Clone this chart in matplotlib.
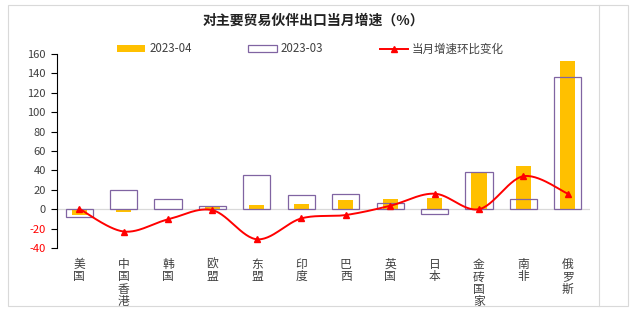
import numpy as np
import matplotlib
matplotlib.use("Agg")
import matplotlib.pyplot as plt
from matplotlib.patches import Rectangle
from matplotlib.lines import Line2D

plt.rcParams['font.family'] = ['Noto Sans CJK SC', 'DejaVu Sans']

# data
partners = ["美国", "中国香港", "韩国", "欧盟", "东盟", "印度", "巴西", "英国", "日本", "金砖国家", "南非", "俄罗斯"]
apr_2023 = [-6, -3, 0.5, 2, 4.5, 5.5, 10, 10.5, 11.5, 38.5, 45, 153]
mar_2023 = [-8, 20, 11, 3, 35, 15, 16, 6.5, -5, 38.5, 11, 136.5]
mom_change = [0.5, -23, -10.5, -1, -31, -9.5, -6, 3.5, 16, 0, 34, 16]
yticks = [-40, -20, 0, 20, 40, 60, 80, 100, 120, 140, 160]

YELLOW = "#FFC000"
PURPLE = "#8064A2"
RED = "#FF0000"
GRID = "#D9D9D9"
TXT = "#404040"

W, H = 640, 322
fig = plt.figure(figsize=(W / 100, H / 100), dpi=100)

# outer frame like the pasted Excel chart
fig.add_artist(Rectangle((8 / W, 1 - 306 / H), 620 / W, 301 / H, transform=fig.transFigure,
                         fill=False, edgecolor=GRID, linewidth=0.8))
fig.add_artist(Line2D([599 / W, 599 / W], [1 - 306 / H, 1 - 5 / H], transform=fig.transFigure,
                      color=GRID, linewidth=0.8))

ax = fig.add_axes([57 / W, 1 - 248 / H, 533 / W, 194 / H])
x = np.arange(len(partners))

ax.bar(x, mar_2023, width=0.61, facecolor="none", edgecolor=PURPLE, linewidth=0.9,
       label="2023-03", zorder=3)
ax.bar(x, apr_2023, width=0.34, color=YELLOW, label="2023-04", zorder=2)


def smooth(xs, ys, n=30):
    # Catmull-Rom style bezier, similar to Excel smoothed line
    xs = np.asarray(xs, float)
    ys = np.asarray(ys, float)
    px, py = [], []
    for i in range(len(xs) - 1):
        i0 = max(i - 1, 0)
        i3 = min(i + 2, len(xs) - 1)
        c1x = xs[i] + (xs[i + 1] - xs[i0]) / 6
        c1y = ys[i] + (ys[i + 1] - ys[i0]) / 6
        c2x = xs[i + 1] - (xs[i3] - xs[i]) / 6
        c2y = ys[i + 1] - (ys[i3] - ys[i]) / 6
        t = np.linspace(0, 1, n)
        bx = (1 - t) ** 3 * xs[i] + 3 * (1 - t) ** 2 * t * c1x + 3 * (1 - t) * t ** 2 * c2x + t ** 3 * xs[i + 1]
        by = (1 - t) ** 3 * ys[i] + 3 * (1 - t) ** 2 * t * c1y + 3 * (1 - t) * t ** 2 * c2y + t ** 3 * ys[i + 1]
        px.extend(bx)
        py.extend(by)
    return px, py


sx, sy = smooth(x, mom_change)
ax.plot(sx, sy, color=RED, linewidth=1.4, zorder=4)
ax.plot(x, mom_change, linestyle="none", marker="^", markersize=4, color=RED, zorder=5)

ax.axhline(0, color=GRID, linewidth=0.9, zorder=1)
ax.set_xlim(-0.5, len(partners) - 0.5)
ax.set_ylim(-40, 160)
ax.set_yticks(yticks)
ax.set_yticklabels([str(v) for v in yticks], fontsize=8)
for lab, v in zip(ax.get_yticklabels(), yticks):
    lab.set_color(RED if v < 0 else TXT)
ax.tick_params(axis="y", length=4, width=0.8, pad=4)

ax.set_xticks(x)
ax.set_xticklabels(["\n".join(p) for p in partners], fontsize=8.5, color=TXT,
                   linespacing=0.95, va="top")
ax.tick_params(axis="x", length=0, pad=7)

for s in ["top", "right", "bottom"]:
    ax.spines[s].set_visible(False)
ax.spines["left"].set_linewidth(0.8)
ax.spines["left"].set_color("black")

fig.text(313 / W, 1 - 21 / H, "对主要贸易伙伴出口当月增速（%）", ha="center", va="center",
         fontsize=10, fontweight="bold", color="#222222")

handles = [
    Rectangle((0, 0), 1, 1, facecolor=YELLOW, edgecolor="none"),
    Rectangle((0, 0), 1, 1, facecolor="none", edgecolor=PURPLE, linewidth=0.9),
    Line2D([], [], color=RED, linewidth=1.4, marker="^", markersize=4),
]
fig.legend(handles, ["2023-04", "2023-03", "当月增速环比变化"], loc="center left",
           bbox_to_anchor=(117 / W, 1 - 49 / H), ncol=3, frameon=False, fontsize=8.3,
           handlelength=2.45, handleheight=0.6, handletextpad=0.35, columnspacing=4.9,
           borderpad=0, borderaxespad=0, numpoints=1, labelcolor=TXT)

fig.savefig("out.png", dpi=100)
